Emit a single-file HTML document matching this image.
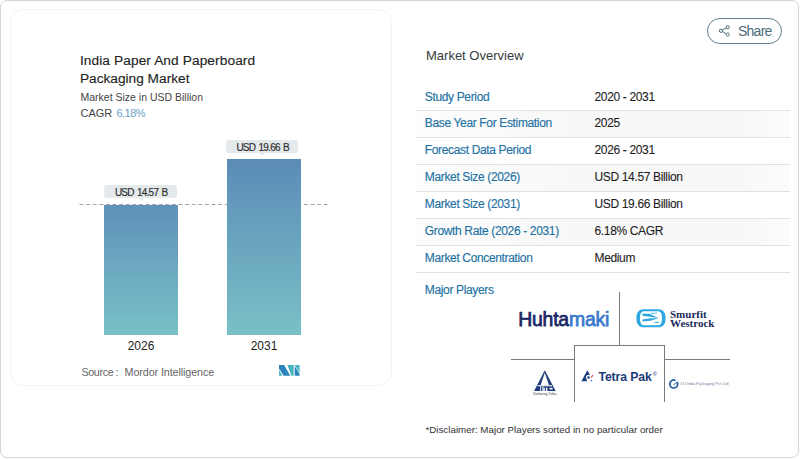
<!DOCTYPE html>
<html><head><meta charset="utf-8">
<style>
html,body{margin:0;padding:0;background:#fff;}
body{width:800px;height:459px;position:relative;overflow:hidden;font-family:"Liberation Sans",sans-serif;}
.outer{position:absolute;left:0;top:0;width:797px;height:456px;border:1.5px solid #d6d6d6;border-radius:7px;background:#fff;}
.card{position:absolute;left:10px;top:9px;width:380px;height:375px;border:1px solid #f3f3f3;border-radius:14px;background:#fff;}
.t{position:absolute;line-height:1;white-space:nowrap;}
.bar{position:absolute;}
.lbl{position:absolute;background:#e4e9ec;border-radius:3px;}
.lbl:after{content:"";position:absolute;left:50%;bottom:-3px;margin-left:-3px;border-left:3px solid transparent;border-right:3px solid transparent;border-top:3px solid #e4e9ec;}
.rowbg{position:absolute;left:416px;width:374px;height:26px;background:linear-gradient(to right,#fdfdfd 0%,#f8f8f8 40%,#f7f7f7 85%,#fcfcfc 100%);}
.sep{position:absolute;left:416px;width:374px;height:1px;background:#e2e2e2;}
.k{color:#1e72a3;font-size:12px;letter-spacing:-0.35px;-webkit-text-stroke:0.15px #1e72a3;}
.v{color:#1e1e1e;font-size:12px;letter-spacing:-0.35px;-webkit-text-stroke:0.1px #1e1e1e;}
.ln{position:absolute;background:#7a7a7a;}
</style></head><body>
<div class="outer"></div>
<div class="card"></div>

<!-- Left chart -->
<div class="t" style="left:79.9px;top:53.7px;font-size:13.7px;color:#1f1f1f;letter-spacing:0.1px;-webkit-text-stroke:0.15px #1f1f1f;">India Paper And Paperboard</div>
<div class="t" style="left:79.9px;top:71.9px;font-size:13.7px;color:#1f1f1f;-webkit-text-stroke:0.15px #1f1f1f;">Packaging Market</div>
<div class="t" style="left:80.5px;top:92.1px;font-size:10.5px;color:#444;">Market Size in USD Billion</div>
<div class="t" style="left:80.5px;top:107.7px;font-size:11px;color:#444;">CAGR</div>
<div class="t" style="left:116.4px;top:107.7px;font-size:11px;color:#6e9fc6;letter-spacing:-0.5px;">6.18%</div>

<!-- dashed line -->
<svg style="position:absolute;left:0;top:0" width="800" height="459">
  <line x1="79.5" y1="204.5" x2="328" y2="204.5" stroke="#a3a3a3" stroke-width="1" stroke-dasharray="4 2.6"/>
</svg>
<div class="bar" style="left:104px;top:204.5px;width:74px;height:130px;background:linear-gradient(#5f92ba,#79c0c6);"></div>
<div class="bar" style="left:227px;top:159px;width:74px;height:175.5px;background:linear-gradient(#5b8cb8,#7ac0c6);"></div>

<div class="lbl" style="left:104.4px;top:185px;width:72.5px;height:13px;"></div>
<div class="t" style="left:104.9px;width:72.5px;text-align:center;top:187.6px;font-size:10px;color:#2b2b2b;letter-spacing:-0.75px;word-spacing:1.2px;-webkit-text-stroke:0.15px #2b2b2b;">USD 14.57 B</div>
<div class="lbl" style="left:226px;top:139.8px;width:72.3px;height:13px;"></div>
<div class="t" style="left:226.5px;width:72.3px;text-align:center;top:142.6px;font-size:10px;color:#2b2b2b;letter-spacing:-0.75px;word-spacing:1.2px;-webkit-text-stroke:0.15px #2b2b2b;">USD 19.66 B</div>

<div class="t" style="left:104px;width:74px;text-align:center;top:339.5px;font-size:12px;color:#222;">2026</div>
<div class="t" style="left:227px;width:74px;text-align:center;top:339.5px;font-size:12px;color:#222;">2031</div>

<div class="t" style="left:81.4px;top:367.2px;font-size:10.75px;color:#666;letter-spacing:-0.35px;">Source</div>
<div class="t" style="left:115.5px;top:367.2px;font-size:10.75px;color:#666;">:</div>
<div class="t" style="left:124.6px;top:367.2px;font-size:10.75px;color:#666;letter-spacing:-0.1px;">Mordor Intelligence</div>
<svg style="position:absolute;left:279.2px;top:365px" width="21" height="11" viewBox="0 0 21 11">
  <polygon points="0,0 5.1,0 11.3,10.8 4.6,10.8 0,3.6" fill="#2b84b9"/>
  <polygon points="0,5 3.4,10.8 0,10.8" fill="#4ab7c0"/>
  <polygon points="8.4,0 14.7,0 14.7,10.8 12.4,10.8" fill="#47b5bf"/>
  <polygon points="15.7,0 20.6,0 20.6,7.8" fill="#4ab7c0"/>
  <polygon points="15.7,1 20.6,9 20.6,10.8 15.7,10.8" fill="#2b84b9"/>
</svg>

<!-- Share button -->
<div style="position:absolute;left:707px;top:18px;width:73px;height:24px;border:1.3px solid #5f7f8e;border-radius:13px;"></div>
<svg style="position:absolute;left:718px;top:24px" width="14" height="14" viewBox="0 0 14 14">
  <g fill="none" stroke="#4d6e7d" stroke-width="1">
    <circle cx="9.7" cy="3.2" r="1.6"/>
    <circle cx="2.9" cy="6.8" r="1.6"/>
    <circle cx="9.7" cy="10.5" r="1.6"/>
    <line x1="4.3" y1="6" x2="8.3" y2="3.9"/>
    <line x1="4.3" y1="7.6" x2="8.3" y2="9.8"/>
  </g>
</svg>
<div class="t" style="left:738px;top:24px;font-size:14px;color:#4b6c7b;letter-spacing:-0.75px;">Share</div>

<!-- Market overview -->
<div class="t" style="left:426px;top:48.8px;font-size:13px;color:#363b40;">Market Overview</div>

<div class="rowbg" style="top:111px;"></div>
<div class="rowbg" style="top:165px;"></div>
<div class="rowbg" style="top:219px;"></div>
<div class="t k" style="left:424.8px;top:90.84px;">Study Period</div>
<div class="t v" style="left:594.5px;top:90.84px;">2020 - 2031</div>
<div class="sep" style="top:110px;"></div>
<div class="t k" style="left:424.8px;top:116.84px;">Base Year For Estimation</div>
<div class="t v" style="left:594.5px;top:116.84px;">2025</div>
<div class="sep" style="top:137px;"></div>
<div class="t k" style="left:424.8px;top:143.84px;">Forecast Data Period</div>
<div class="t v" style="left:594.5px;top:143.84px;">2026 - 2031</div>
<div class="sep" style="top:164px;"></div>
<div class="t k" style="left:424.8px;top:170.84px;">Market Size (2026)</div>
<div class="t v" style="left:594.5px;top:170.84px;">USD 14.57 Billion</div>
<div class="sep" style="top:191px;"></div>
<div class="t k" style="left:424.8px;top:197.84px;">Market Size (2031)</div>
<div class="t v" style="left:594.5px;top:197.84px;">USD 19.66 Billion</div>
<div class="sep" style="top:218px;"></div>
<div class="t k" style="left:424.8px;top:224.84px;">Growth Rate (2026 - 2031)</div>
<div class="t v" style="left:594.5px;top:224.84px;">6.18% CAGR</div>
<div class="sep" style="top:245px;"></div>
<div class="t k" style="left:424.8px;top:251.84px;">Market Concentration</div>
<div class="t v" style="left:594.5px;top:251.84px;">Medium</div>
<div class="sep" style="top:272px;"></div>

<div class="t k" style="left:424.8px;top:283.5px;">Major Players</div>

<!-- players grid lines -->
<div class="ln" style="left:619px;top:292px;width:1px;height:53px;"></div>
<div class="ln" style="left:574px;top:345px;width:91px;height:1px;"></div>
<div class="ln" style="left:574px;top:345px;width:1px;height:57px;"></div>
<div class="ln" style="left:664px;top:345px;width:1px;height:57px;"></div>
<div class="ln" style="left:511px;top:359px;width:63px;height:1px;"></div>
<div class="ln" style="left:665px;top:359px;width:65px;height:1px;"></div>

<!-- Huhtamaki -->
<div class="t" style="left:518.2px;top:310.2px;font-size:19.4px;letter-spacing:-0.2px;"><span style="color:#182765;-webkit-text-stroke:0.75px #182765;">Huhta</span><span style="color:#3a78cc;-webkit-text-stroke:0.75px #3a78cc;">maki</span></div>

<!-- Smurfit Westrock -->
<svg style="position:absolute;left:636px;top:309px" width="30" height="19" viewBox="0 0 30 19">
  <path fill-rule="evenodd" fill="#2ba7e1" d="M8 0.2 H22 C27 0.2 29.6 3 29.6 9.2 C29.6 15.4 27 18.3 22 18.3 H8 C3 18.3 0.4 15.4 0.4 9.2 C0.4 3 3 0.2 8 0.2 Z M8.5 2.2 C5.2 2.2 4 4.6 4 9.2 C4 13.8 5.2 16.3 8.5 16.3 H21.5 C24.8 16.3 26 13.8 26 9.2 C26 4.6 24.8 2.2 21.5 2.2 Z"/>
  <g fill="#2ba7e1">
    <polygon points="6.5,4.5 14,5.1 22.6,9.3 14,7.7 6.5,6.7"/>
    <polygon points="6.5,10.5 14,9.2 22.6,9.3 14.5,11.7 6.5,12.6"/>
  </g>
  <g stroke="#2ba7e1" fill="none">
    <path d="M15 4.4 L21 4.1" stroke-width="0.8"/>
    <path d="M18.5 13.4 L23 13.3" stroke-width="1"/>
  </g>
</svg>
<div class="t" style="left:670px;top:309.5px;font-size:11px;font-weight:bold;font-family:'Liberation Serif',serif;color:#1a2a5c;line-height:9.4px;letter-spacing:0px;">Smurfit<br>Westrock</div>

<!-- ITC -->
<svg style="position:absolute;left:533px;top:369px" width="24" height="24" viewBox="0 0 24 24">
  <polygon points="11.8,1.3 1.1,22 22.6,22" fill="#1c3b7a"/>
  <polygon points="11.8,3.8 7.6,16.2 16,16.2" fill="#fff"/>
  <rect x="4.5" y="16.2" width="14.6" height="1.1" fill="#fff"/>
  <rect x="7.2" y="17.3" width="0.9" height="4.7" fill="#fff"/>
  <rect x="9.4" y="17.3" width="0.9" height="4.7" fill="#fff"/>
  <rect x="10.3" y="18.7" width="1.5" height="3.3" fill="#fff"/>
  <rect x="12.9" y="18.7" width="1.5" height="3.3" fill="#fff"/>
  <rect x="16.6" y="18.8" width="3" height="1.7" fill="#fff"/>
</svg>
<div class="t" style="left:533.3px;top:393.2px;font-size:3.8px;color:#333;font-family:'Liberation Serif',serif;">Enduring Value</div>

<!-- Tetra Pak -->
<svg style="position:absolute;left:580px;top:369px" width="15" height="14" viewBox="0 0 15 14">
  <path d="M7.3 1.3 L10.3 6.6 A2.1 2.1 0 0 0 6.6 10.3 L7 12.3 L1.4 12.3 Z" fill="#1d3c7c"/>
  <circle cx="8.5" cy="8.6" r="1.25" fill="#1d3c7c"/>
  <path d="M11.2 8.3 L13 6.2" stroke="#d9453f" stroke-width="1.1"/>
  <polygon points="10.6,12.3 12.4,12.3 11.5,10.8" fill="#1d3c7c"/>
</svg>
<div class="t" style="left:598.5px;top:370.8px;font-size:12.2px;font-weight:bold;color:#1c3b78;letter-spacing:-0.1px;">Tetra Pak<span style="font-size:6px;position:relative;top:-5px;margin-left:1px;font-weight:normal;">®</span></div>

<!-- DJ India -->
<svg style="position:absolute;left:668px;top:379px" width="11" height="10" viewBox="0 0 11 10">
  <path d="M7.5 1.4 A4 4 0 1 0 9.3 3.2" fill="none" stroke="#25609f" stroke-width="1.7"/>
  <path d="M5.6 5.8 L9.2 3 L9.6 5.6" fill="none" stroke="#25609f" stroke-width="1"/>
</svg>
<div class="t" style="left:680.8px;top:382.2px;font-size:4.1px;color:#6a86a3;letter-spacing:-0.1px;">DJ India Packaging Pvt. Ltd</div>

<div class="t" style="left:425.4px;top:424.6px;font-size:9.8px;color:#333;">*Disclaimer: Major Players sorted in no particular order</div>

</body></html>
